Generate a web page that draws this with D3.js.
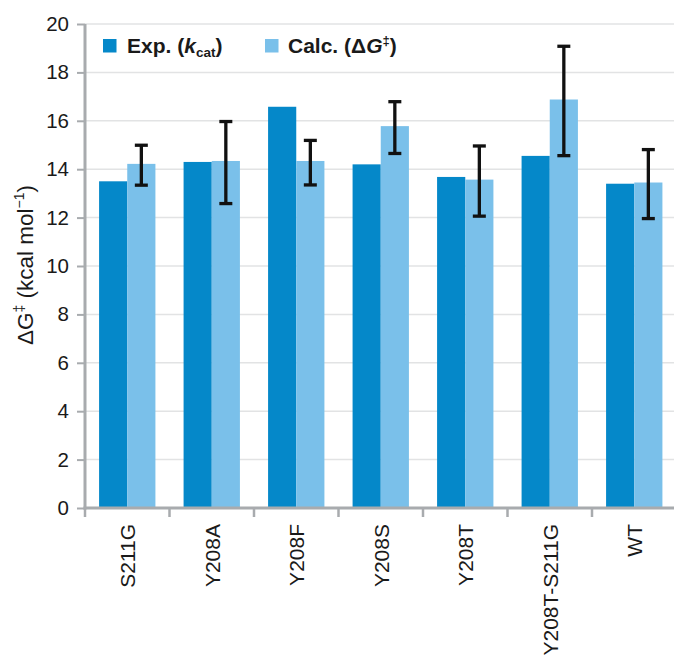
<!DOCTYPE html>
<html>
<head>
<meta charset="utf-8">
<script src="https://cdn.jsdelivr.net/npm/d3@7"></script>
<style>
  html, body { margin: 0; padding: 0; background: #fff; }
  svg { display: block; font-family: "Liberation Sans", Arial, sans-serif; }
</style>
</head>
<body>
<svg id="chart" width="674" height="660"></svg>
<script>
// Activation free energies per enzyme variant (kcal/mol)
const variants = ["S211G", "Y208A", "Y208F", "Y208S", "Y208T", "Y208T-S211G", "WT"];
const expValues = [13.5, 14.3, 16.58, 14.2, 13.68, 14.55, 13.4];
const calcValues = [14.22, 14.34, 14.34, 15.78, 13.57, 16.88, 13.45];
const calcErrLow = [13.34, 12.58, 13.35, 14.65, 12.06, 14.56, 11.96];
const calcErrHigh = [14.99, 15.97, 15.19, 16.79, 14.96, 19.08, 14.81];
const yTicks = [0, 2, 4, 6, 8, 10, 12, 14, 16, 18, 20];
const seriesKeys = ["exp", "calc"];

const colors = { exp: "#0588c9", calc: "#7ac0ea" };
const axisColor = "#a8abae";
const gridColor = "#e2e3e4";
const textColor = "#1a1a1a";

const svg = d3.select("#chart");
const W = 674, H = 660;
const margin = { left: 85, top: 24, bottom: 152 };
const bandStep = 84.5;
const plotRight = margin.left + bandStep * variants.length;
const y0 = H - margin.bottom;

const x = d3.scaleBand().domain(variants).range([margin.left, plotRight]).padding(0);
const xs = d3.scaleBand().domain(seriesKeys).range([0, x.bandwidth()]).paddingInner(0).paddingOuter(0.5);
const y = d3.scaleLinear().domain([0, 20]).range([y0, margin.top]);

const rows = variants.map((v, i) => ({
  name: v, exp: expValues[i], calc: calcValues[i], lo: calcErrLow[i], hi: calcErrHigh[i]
}));

// horizontal grid
svg.append("g").selectAll("line").data(yTicks.filter(t => t > 0)).join("line")
  .attr("x1", margin.left).attr("x2", W)
  .attr("y1", d => y(d)).attr("y2", d => y(d))
  .attr("stroke", gridColor).attr("stroke-width", 1.5);

// bars
const groups = svg.append("g").selectAll("g").data(rows).join("g")
  .attr("transform", d => `translate(${x(d.name)},0)`);
groups.selectAll("rect").data(d => seriesKeys.map(k => ({ key: k, value: d[k] }))).join("rect")
  .attr("x", d => xs(d.key))
  .attr("width", xs.bandwidth())
  .attr("y", d => y(d.value))
  .attr("height", d => y0 - y(d.value))
  .attr("fill", d => colors[d.key]);

// error bars on the calculated series
const eb = groups.append("g").attr("stroke", "#111").attr("stroke-width", 3.3);
const cx = xs("calc") + xs.bandwidth() / 2;
eb.append("line").attr("x1", cx).attr("x2", cx).attr("y1", d => y(d.hi)).attr("y2", d => y(d.lo));
eb.append("line").attr("x1", cx - 6.5).attr("x2", cx + 6.5).attr("y1", d => y(d.hi)).attr("y2", d => y(d.hi));
eb.append("line").attr("x1", cx - 6.5).attr("x2", cx + 6.5).attr("y1", d => y(d.lo)).attr("y2", d => y(d.lo));

// y axis
const yAxis = svg.append("g").attr("transform", `translate(${margin.left},0)`)
  .call(d3.axisLeft(y).tickValues(yTicks).tickSize(8).tickPadding(8).tickFormat(d3.format("d")));
yAxis.select(".domain").remove();
yAxis.selectAll(".tick line").attr("stroke", axisColor).attr("stroke-width", 2);
yAxis.selectAll(".tick text").attr("font-size", 20.5).attr("fill", textColor)
  .attr("font-family", "Liberation Sans, Arial, sans-serif");
svg.append("line").attr("x1", margin.left).attr("x2", margin.left)
  .attr("y1", y(20)).attr("y2", y0 + 1.5)
  .attr("stroke", axisColor).attr("stroke-width", 3);

// x axis
svg.append("line").attr("x1", margin.left - 1.5).attr("x2", W)
  .attr("y1", y0).attr("y2", y0).attr("stroke", axisColor).attr("stroke-width", 3);
svg.append("g").selectAll("line").data(variants).join("line")
  .attr("x1", d => x(d)).attr("x2", d => x(d))
  .attr("y1", y0).attr("y2", y0 + 9)
  .attr("stroke", axisColor).attr("stroke-width", 2.5);

svg.append("g").selectAll("text").data(variants).join("text")
  .attr("transform", d => `translate(${x(d) + x.bandwidth() / 2 + 8},${y0 + 16}) rotate(-90)`)
  .attr("text-anchor", "end")
  .attr("font-size", 21).attr("fill", textColor)
  .text(d => d);

// y axis title: ΔG‡ (kcal mol−1)
const yt = svg.append("text")
  .attr("transform", `translate(32.5,265) rotate(-90)`)
  .attr("text-anchor", "middle")
  .attr("font-size", 22.5).attr("fill", textColor);
yt.append("tspan").text("ΔG");
yt.append("tspan").attr("font-size", 14).attr("dy", -9).text("‡");
yt.append("tspan").attr("dy", 9).text(" (kcal mol");
yt.append("tspan").attr("font-size", 14).attr("dy", -9).text("−1");
yt.append("tspan").attr("dy", 9).text(")");

// legend
const legend = svg.append("g");
legend.append("rect").attr("x", 103).attr("y", 39).attr("width", 13.5).attr("height", 13.5).attr("fill", colors.exp);
const l1 = legend.append("text").attr("x", 127).attr("y", 53)
  .attr("font-size", 21).attr("font-weight", "bold").attr("fill", textColor);
l1.append("tspan").text("Exp. (");
l1.append("tspan").attr("font-style", "italic").text("k");
l1.append("tspan").attr("font-size", 13.5).attr("dy", 4).text("cat");
l1.append("tspan").attr("dy", -4).text(")");

legend.append("rect").attr("x", 265).attr("y", 39).attr("width", 13.5).attr("height", 13.5).attr("fill", colors.calc);
const l2 = legend.append("text").attr("x", 288).attr("y", 53)
  .attr("font-size", 21).attr("font-weight", "bold").attr("fill", textColor);
l2.append("tspan").text("Calc. (Δ");
l2.append("tspan").attr("font-style", "italic").text("G");
l2.append("tspan").attr("font-size", 13).attr("dy", -8).text("‡");
l2.append("tspan").attr("dy", 8).text(")");
</script>
</body>
</html>
